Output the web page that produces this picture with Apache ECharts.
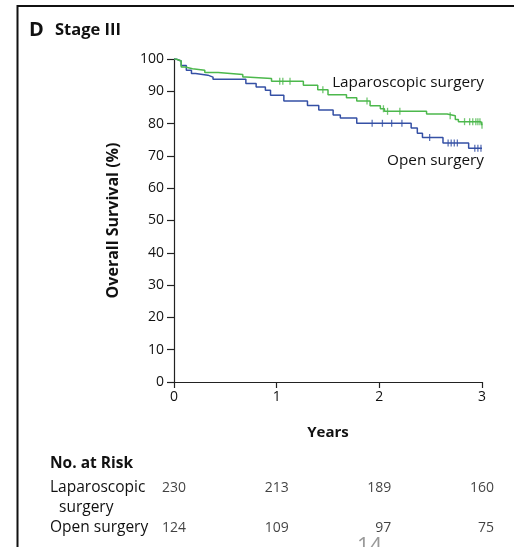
<!DOCTYPE html>
<html>
<head>
<meta charset="utf-8">
<script src="https://cdn.jsdelivr.net/npm/echarts@6/dist/echarts.min.js"></script>
<style>
html,body{margin:0;padding:0;background:#fff;}
#chart{width:514px;height:547px;}
</style>
</head>
<body>
<div id="chart"></div>
<script>
// ---- data ----
const lapTimes = [0, 0.02, 0.07, 0.11, 0.18, 0.30, 0.43, 0.67, 0.70, 0.95, 1.26, 1.40, 1.50, 1.68, 1.78, 1.91, 2.01, 2.05, 2.46, 2.66, 2.74, 2.77, 2.99, 3.0];
const lapSurv  = [100, 99.4, 97.5, 97.0, 96.5, 95.8, 95.2, 94.4, 94.0, 93.1, 91.9, 90.5, 88.9, 88.0, 87.0, 85.5, 84.6, 83.8, 83.0, 82.4, 81.3, 80.6, 80.0, 79.5];
const lapCensor = [1.03, 1.06, 1.13, 1.45, 1.88, 2.04, 2.08, 2.20, 2.69, 2.83, 2.88, 2.91, 2.94, 2.96, 2.98, 3.0];

const openTimes = [0, 0.02, 0.07, 0.12, 0.17, 0.21, 0.33, 0.38, 0.70, 0.80, 0.89, 0.94, 1.07, 1.30, 1.41, 1.55, 1.62, 1.78, 2.31, 2.37, 2.42, 2.62, 2.87, 3.0];
const openSurv  = [100, 99.4, 98.0, 96.5, 95.5, 95.0, 94.4, 93.7, 92.4, 91.3, 90.3, 88.8, 87.0, 85.6, 84.2, 82.7, 81.7, 80.1, 78.6, 77.0, 75.7, 74.0, 72.4, 72.4];
const openCensor = [1.93, 2.03, 2.12, 2.22, 2.49, 2.67, 2.70, 2.73, 2.76, 2.93, 2.96, 2.99];

const riskYears = [0, 1, 2, 3];
const lapRisk  = [230, 213, 189, 160];
const openRisk = [124, 109, 97, 75];

// ---- helpers ----
const GREEN = '#4cb84c';
const BLUE = '#3550a5';
const FONT = '"Open Sans", "Noto Sans", sans-serif';
function pairs(t, s){ return t.map((v,i)=>[v, s[i]]); }
function survAt(t, times, surv){
  let v = surv[0];
  for (let i=0;i<times.length;i++){ if (times[i] <= t) v = surv[i]; }
  return v;
}

const chart = echarts.init(document.getElementById('chart'), null, {renderer:'canvas'});

const option = {
  backgroundColor: '#fff',
  animation: false,
  grid: [
    {left:174, right:32, top:59, height:323},
    {left:174, right:32, top:488, height:40}
  ],
  xAxis: [
    {
      type:'value', gridIndex:0, min:0, max:3, interval:1,
      name:'Years', nameLocation:'middle', nameGap:43,
      nameTextStyle:{fontFamily:FONT, fontWeight:'bold', fontSize:15, color:'#111'},
      axisLine:{onZero:false, lineStyle:{color:'#222', width:1.2}},
      axisTick:{show:true, length:6, lineStyle:{color:'#222', width:1.2}},
      axisLabel:{fontFamily:FONT, fontSize:14, color:'#111', margin:8},
      splitLine:{show:false}
    },
    {
      type:'value', gridIndex:1, min:0, max:3, interval:1, show:false
    }
  ],
  yAxis: [
    {
      type:'value', gridIndex:0, min:0, max:100, interval:10,
      name:'Overall Survival (%)', nameLocation:'middle', nameGap:53,
      nameTextStyle:{fontFamily:FONT, fontWeight:'bold', fontSize:16, color:'#111'},
      axisLine:{show:true, lineStyle:{color:'#222', width:1.2}},
      axisTick:{show:true, length:7, lineStyle:{color:'#222', width:1.2}},
      axisLabel:{fontFamily:FONT, fontSize:14, color:'#111', margin:10},
      splitLine:{show:false}
    },
    {
      type:'value', gridIndex:1, min:0, max:1, show:false
    }
  ],
  series: [
    {
      type:'line', name:'Open surgery', xAxisIndex:0, yAxisIndex:0,
      data: pairs(openTimes, openSurv), step:'end', showSymbol:false,
      lineStyle:{color:BLUE, width:1.5}, z:3
    },
    {
      type:'line', name:'Laparoscopic surgery', xAxisIndex:0, yAxisIndex:0,
      data: pairs(lapTimes, lapSurv), step:'end', showSymbol:false,
      lineStyle:{color:GREEN, width:1.5}, z:4
    },
    {
      type:'scatter', xAxisIndex:0, yAxisIndex:0,
      data: openCensor.map(t=>[t, survAt(t, openTimes, openSurv)]),
      symbol:'rect', symbolSize:[1.3,7], itemStyle:{color:BLUE}, z:5
    },
    {
      type:'scatter', xAxisIndex:0, yAxisIndex:0,
      data: lapCensor.map(t=>[t, survAt(t, lapTimes, lapSurv)]),
      symbol:'rect', symbolSize:[1.3,7], itemStyle:{color:GREEN}, z:6
    },
    {
      type:'scatter', xAxisIndex:1, yAxisIndex:1, symbolSize:0,
      data: riskYears.map((t,i)=>[t, 1, lapRisk[i]]),
      label:{show:true, position:'inside', align:'right', offset:[12,0],
        formatter:p=>String(p.value[2]), fontFamily:FONT, fontSize:14, color:'#111'}
    },
    {
      type:'scatter', xAxisIndex:1, yAxisIndex:1, symbolSize:0,
      data: riskYears.map((t,i)=>[t, 0, openRisk[i]]),
      label:{show:true, position:'inside', align:'right', offset:[12,0],
        formatter:p=>String(p.value[2]), fontFamily:FONT, fontSize:14, color:'#111'}
    }
  ],
  graphic: [
    {type:'line', shape:{x1:17.5, y1:6, x2:514, y2:6}, style:{stroke:'#111', lineWidth:2}},
    {type:'line', shape:{x1:17.5, y1:5, x2:17.5, y2:547}, style:{stroke:'#111', lineWidth:2}},
    {type:'text', left:29, top:20, style:{text:'D', font:'bold 20px '+FONT, fill:'#111'}},
    {type:'text', left:55, top:22, style:{text:'Stage III', font:'bold 16.5px '+FONT, fill:'#111'}},
    {type:'text', right:30, top:75, style:{text:'Laparoscopic surgery', font:'15.3px '+FONT, fill:'#111'}},
    {type:'text', right:30, top:153, style:{text:'Open surgery', font:'15.3px '+FONT, fill:'#111'}},
    {type:'text', left:50, top:456, style:{text:'No. at Risk', font:'bold 15.5px '+FONT, fill:'#111'}},
    {type:'text', left:50, top:480, style:{text:'Laparoscopic', font:'15.5px '+FONT, fill:'#111'}},
    {type:'text', left:59, top:500, style:{text:'surgery', font:'15.5px '+FONT, fill:'#111'}},
    {type:'text', left:50, top:520, style:{text:'Open surgery', font:'15.5px '+FONT, fill:'#111'}},
    {type:'text', left:357, top:536, style:{text:'14', font:'22px '+FONT, fill:'#999'}}
  ]
};
chart.setOption(option);
</script>
</body>
</html>
